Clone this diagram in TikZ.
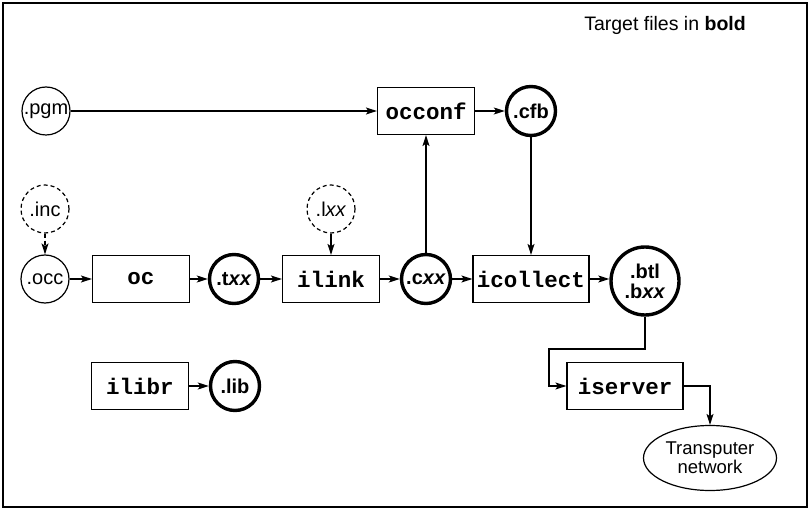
\documentclass[tikz,border=0pt]{standalone}
\usepackage{fontspec}
\setmainfont{Liberation Sans}
\newfontfamily\codefont{Liberation Mono}
\usepackage{tikz}
\usetikzlibrary{shapes.geometric, arrows.meta, positioning, calc}

\begin{document}
\begin{tikzpicture}[
    x=1pt, y=-1pt,
    font=\fontsize{20}{21}\selectfont,
    >={Stealth[length=11pt, width=7pt, inset=2.5pt]},
    tool/.style={draw, line width=1.2pt, minimum width=97pt, minimum height=47pt, inner sep=0pt, font=\codefont\bfseries\fontsize{22.5}{24}\selectfont},
    wide/.style={tool, minimum width=116pt},
    srcfile/.style={circle, draw, line width=1.2pt, minimum size=48pt, inner sep=0pt},
    incfile/.style={srcfile, dash pattern=on 4pt off 3pt},
    target/.style={circle, draw, line width=3.4pt, minimum size=49pt, inner sep=0pt, font=\bfseries\fontsize{20}{20}\selectfont, align=center},
    arrow/.style={->, line width=1.2pt}
]

% FRAME
\useasboundingbox (0,0) rectangle (810,510);
\draw[line width=1.4pt] (3,3) rectangle (807,507);
\node[anchor=center, font=\fontsize{19.5}{21}\selectfont] (legend) at (665,25) {Target files in \textbf{bold}};

% CONFIGURATION
\node[srcfile] (pgm) at (46,111) {.pgm};
\node[tool] (occonf) at (426,111) {occonf};
\node[target] (cfb) at (531,111) {.cfb};

% INCLUDED FILES
\node[incfile] (inc) at (45,209) {.inc};
\node[incfile] (lxx) at (331,209) {.l\textit{xx}};

% COMPILE AND LINK
\node[srcfile] (occ) at (45,279) {.occ};
\node[tool] (oc) at (141,279) {oc};
\node[target] (txx) at (234,279) {.t\textit{xx}};
\node[tool] (ilink) at (331,279) {ilink};
\node[target] (cxx) at (426,279) {.c\textit{xx}};
\node[wide] (icollect) at (531,279) {icollect};
\node[target, minimum size=68pt] (btl) at (645,281) {.btl\\.b\textit{xx}};

% LIBRARIES
\node[tool] (ilibr) at (140,386) {ilibr};
\node[target] (lib) at (235,386) {.lib};

% LOADING
\node[wide] (iserver) at (625,386) {iserver};
\node[ellipse, draw, line width=1.2pt, minimum width=133pt, minimum height=65pt, inner sep=0pt, align=center, font=\fontsize{18.5}{19}\selectfont] (net) at (710,458) {Transputer\\network};
\coordinate (bend) at (549,349);

% ARROWS
\draw[arrow] (pgm) -- (occonf);
\draw[arrow] (occonf) -- (cfb);
\draw[arrow, dash pattern=on 4pt off 3pt] (inc) -- (occ);
\draw[arrow] (lxx) -- (ilink);
\draw[arrow] (occ) -- (oc);
\draw[arrow] (oc) -- (txx);
\draw[arrow] (txx) -- (ilink);
\draw[arrow] (ilink) -- (cxx);
\draw[arrow] (cxx) -- (icollect);
\draw[arrow] (icollect) -- (icollect.east -| btl.west);
\draw[arrow] (cxx) -- (occonf);
\draw[arrow] (cfb) -- (icollect);
\draw[arrow] (ilibr) -- (lib);
\draw[arrow] (btl.south) |- (bend) |- (iserver.west);
\draw[arrow] (iserver.east) -| (net.north);

\end{tikzpicture}
\end{document}
